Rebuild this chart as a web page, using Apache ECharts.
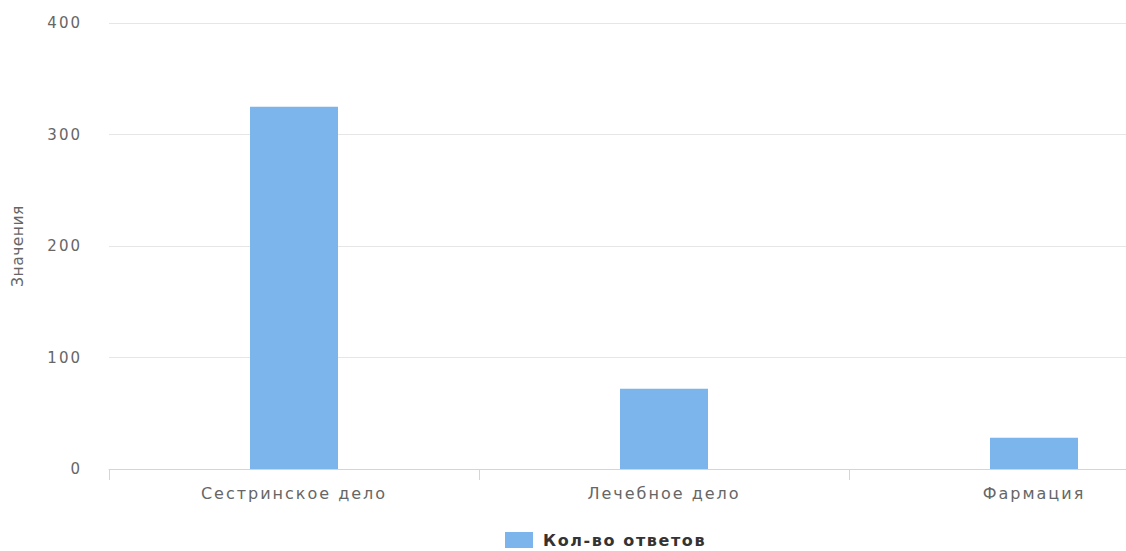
<!DOCTYPE html>
<html>
<head>
<meta charset="utf-8">
<script src="https://cdn.jsdelivr.net/npm/echarts@6/dist/echarts.min.js"></script>
<style>
html,body{margin:0;padding:0;background:#fff;overflow:hidden;width:1126px;height:551px;}
#chart{width:1219px;height:551px;}
#chart text{letter-spacing:2px;}
#chart text[style*="15.5px"]{letter-spacing:0.5px;}
#chart text[style*="bold"]{letter-spacing:1.6px;}
</style>
</head>
<body>
<div id="chart"></div>
<script>
const categories = ['Сестринское дело', 'Лечебное дело', 'Фармация'];
const values = [325, 72, 28];
const seriesName = 'Кол-во ответов';
const yAxisName = 'Значения';

const chart = echarts.init(document.getElementById('chart'), null, { renderer: 'svg' });
chart.setOption({
  animation: false,
  textStyle: { fontFamily: 'DejaVu Sans' },
  grid: { left: 109, right: 0, top: 23, bottom: 82, containLabel: false },
  legend: {
    left: 500, top: 527,
    itemWidth: 28, itemHeight: 16, itemGap: 10,
    icon: 'rect',
    textStyle: { fontSize: 16, fontWeight: 'bold', color: '#333', fontFamily: 'DejaVu Sans', padding: [0, 0, 0, 5] },
    data: [seriesName]
  },
  xAxis: {
    type: 'category',
    data: categories,
    axisLine: { lineStyle: { color: '#ccd6eb', width: 1 } },
    axisTick: { show: true, length: 11, lineStyle: { color: '#ccd6eb' } },
    axisLabel: { fontSize: 16, color: '#666', margin: 16 }
  },
  yAxis: {
    type: 'value',
    min: 0, max: 400, interval: 100,
    name: yAxisName,
    nameLocation: 'middle',
    nameGap: 83,
    nameTextStyle: { fontSize: 15.5, color: '#666' },
    axisLine: { show: false },
    axisTick: { show: false },
    splitLine: { lineStyle: { color: '#e6e6e6', width: 1 } },
    axisLabel: { fontSize: 15, color: '#666', margin: 27 }
  },
  series: [{
    name: seriesName,
    type: 'bar',
    data: values,
    barWidth: 88,
    itemStyle: { color: '#7cb5ec' }
  }]
});
</script>
</body>
</html>
